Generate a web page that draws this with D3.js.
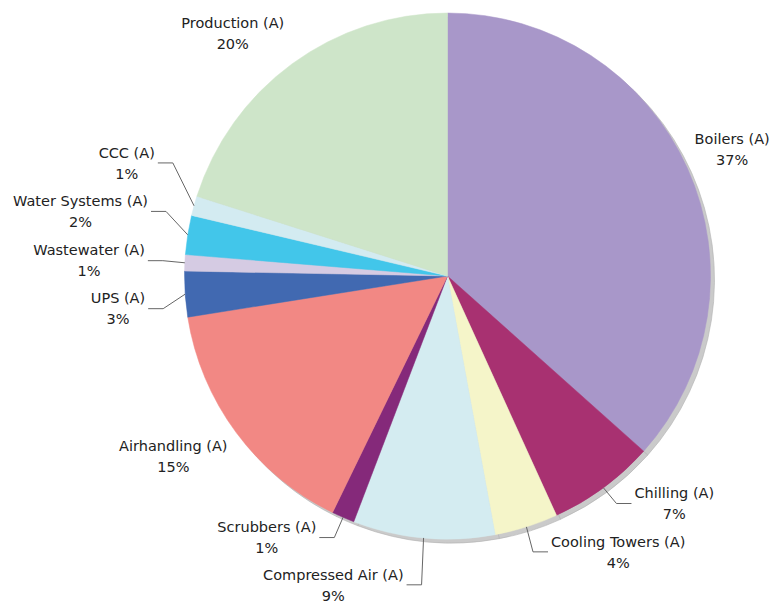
<!DOCTYPE html>
<html>
<head>
<meta charset="utf-8">
<script src="https://cdn.jsdelivr.net/npm/d3@7"></script>
<style>
  html, body { margin: 0; padding: 0; background: #fff; }
  svg { display: block; }
  text { font-family: "DejaVu Sans", Verdana, sans-serif; font-size: 14.5px; fill: #222; }
</style>
</head>
<body>
<svg id="chart" width="771" height="604"></svg>
<script>
// Energy use by area (share of total, %)
const categories = ["Boilers (A)", "Chilling (A)", "Cooling Towers (A)", "Compressed Air (A)",
  "Scrubbers (A)", "Airhandling (A)", "UPS (A)", "Wastewater (A)", "Water Systems (A)",
  "CCC (A)", "Production (A)"];
const values = [36.6, 6.6, 3.9, 8.7, 1.4, 15.3, 2.8, 1.0, 2.4, 1.2, 20.1];
const colors = ["#a897c9", "#a83171", "#f5f5c9", "#d4ecf1", "#85297a", "#f28884",
  "#4169b1", "#d5cbe3", "#42c6ea", "#d3ebf1", "#cee5c9"];

// Label placement tweaks (px) applied to the default label anchor, to keep labels apart
const labelNudge = [[-13, -10], [0, -2], [0, 4], [0, 25], [0, 0], [9, 11],
  [0, 13], [0, -1], [0, -20], [0, -37], [5, -13]];

const width = 771, height = 604;
const cx = 447.5, cy = 276, radius = 263;
const labelGap = 22, tickLen = 15;

const svg = d3.select("#chart");
const total = d3.sum(values);
const rows = categories.map((c, i) => ({ name: c, value: values[i], color: colors[i], nudge: labelNudge[i] }));

const pie = d3.pie().sort(null).value(d => d.value);
const arcs = pie(rows);
const arc = d3.arc().innerRadius(0).outerRadius(radius);

// drop shadow
svg.append("g")
  .attr("transform", `translate(${cx + 4},${cy + 4})`)
  .selectAll("path")
  .data(arcs)
  .join("path")
  .attr("d", arc)
  .attr("fill", "#cacaca")
  .attr("stroke", "#b2b2b2")
  .attr("stroke-width", 0.6);

// slices
svg.append("g")
  .attr("transform", `translate(${cx},${cy})`)
  .selectAll("path")
  .data(arcs)
  .join("path")
  .attr("d", arc)
  .attr("fill", d => d.data.color)
  .attr("stroke", d => d.data.color)
  .attr("stroke-width", 0.5);

// labels
const labels = svg.append("g").attr("transform", `translate(${cx},${cy})`);
arcs.forEach(d => {
  const mid = (d.startAngle + d.endAngle) / 2;
  const pct = Math.round(d.data.value / total * 100);
  const left = mid > Math.PI;
  const hasTick = pct < 10;
  const ex = Math.sin(mid) * (radius + labelGap) + d.data.nudge[0];
  const ey = -Math.cos(mid) * (radius + labelGap) + d.data.nudge[1];
  let edge = ex;
  if (hasTick) {
    const rx = Math.sin(mid) * radius, ry = -Math.cos(mid) * radius;
    const hx = ex + (left ? -tickLen : tickLen);
    labels.append("polyline")
      .attr("points", [[rx, ry], [ex, ey], [hx, ey]].map(p => p.join(",")).join(" "))
      .attr("fill", "none")
      .attr("stroke", "#666")
      .attr("stroke-width", 1);
    edge = hx + (left ? -3 : 3);
  }
  const t = labels.append("text").attr("text-anchor", "middle");
  const l1 = t.append("tspan").attr("y", ey - 5.2).text(d.data.name);
  const l2 = t.append("tspan").attr("y", ey + 15.8).text(pct + "%");
  const w = Math.max(l1.node().getComputedTextLength(), l2.node().getComputedTextLength());
  const x = left ? edge - w / 2 : edge + w / 2;
  l1.attr("x", x);
  l2.attr("x", x);
});
</script>
</body>
</html>
